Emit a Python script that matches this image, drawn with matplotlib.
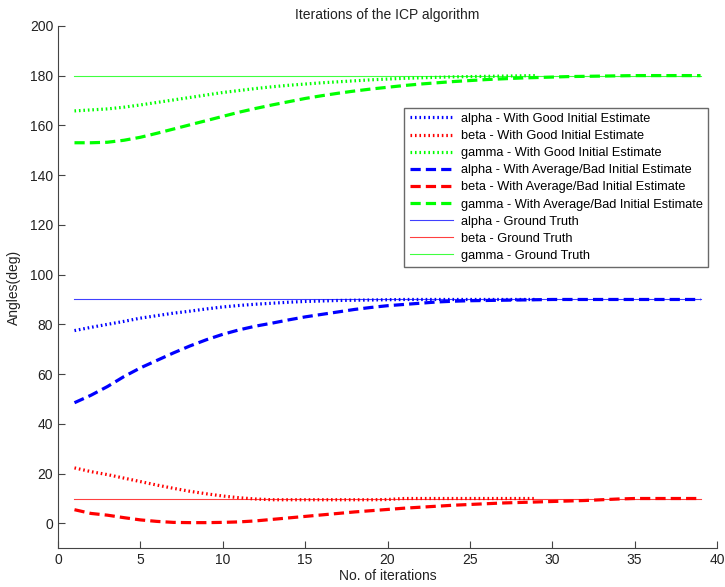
import numpy as np
import matplotlib.pyplot as plt

plt.rcParams['font.family'] = ['Liberation Sans', 'DejaVu Sans']

# iterations for each run
iters_good = np.arange(1, 30)
iters_bad = np.arange(1, 40)
iters_truth = np.arange(1, 40)

alpha_good = [77.5, 78.8, 80.0, 81.2, 82.5, 83.5, 84.5, 85.3, 86.2, 87.0,
              87.6, 88.1, 88.5, 88.9, 89.2, 89.4, 89.6, 89.7, 89.8, 89.9,
              90.0, 90.0, 90.0, 90.0, 90.0, 90.0, 90.0, 90.0, 90.0]
beta_good = [22.3, 20.8, 19.6, 18.2, 16.8, 15.4, 14.1, 12.9, 11.9, 11.0,
             10.3, 9.8, 9.5, 9.5, 9.5, 9.5, 9.5, 9.5, 9.5, 9.6,
             10.0, 10.0, 10.0, 10.0, 10.0, 10.0, 10.0, 10.0, 10.0]
gamma_good = [165.8, 166.2, 166.6, 167.3, 168.2, 169.2, 170.2, 171.2, 172.2, 173.2,
              174.0, 174.8, 175.5, 176.1, 176.6, 177.1, 177.5, 177.9, 178.3, 178.6,
              178.9, 179.1, 179.3, 179.5, 179.6, 179.7, 179.8, 179.9, 180.0]

alpha_bad = [48.5, 51.5, 55.0, 59.0, 62.5, 65.5, 68.5, 71.3, 73.8, 76.0,
             77.8, 79.3, 80.5, 81.8, 83.0, 84.0, 85.0, 86.0, 86.8, 87.5,
             88.0, 88.5, 89.0, 89.3, 89.5, 89.6, 89.7, 89.8, 89.9, 90.0,
             90.0, 90.0, 90.0, 90.0, 90.0, 90.0, 90.0, 90.0, 90.0]
beta_bad = [5.5, 4.0, 3.3, 2.3, 1.4, 0.8, 0.4, 0.3, 0.3, 0.4,
            0.6, 1.0, 1.6, 2.2, 2.8, 3.4, 4.0, 4.6, 5.1, 5.6,
            6.1, 6.5, 6.9, 7.3, 7.6, 7.9, 8.2, 8.4, 8.6, 8.8,
            9.0, 9.2, 9.5, 9.8, 10.0, 10.0, 10.0, 10.0, 10.0]
gamma_bad = [153.0, 153.0, 153.2, 154.0, 155.2, 156.8, 158.5, 160.2, 161.9, 163.6,
             165.3, 166.8, 168.2, 169.5, 170.8, 171.9, 172.9, 173.8, 174.6, 175.3,
             176.0, 176.6, 177.1, 177.6, 178.0, 178.4, 178.7, 179.0, 179.2, 179.4,
             179.6, 179.7, 179.8, 179.9, 180.0, 180.0, 180.0, 180.0, 180.0]

truth = {'alpha': 90, 'beta': 10, 'gamma': 180}
colors = {'alpha': (0, 0, 1), 'beta': (1, 0, 0), 'gamma': (0, 1, 0)}

fig = plt.figure(figsize=(7.25, 5.87), dpi=100)
ax = fig.add_axes([0.080, 0.066, 0.909, 0.890])

lw = 2.3
for name, vals in [('alpha', alpha_good), ('beta', beta_good), ('gamma', gamma_good)]:
    ax.plot(iters_good, vals, linestyle=(0, (0.5, 0.9)), color=colors[name], lw=lw,
            label=name + ' - With Good Initial Estimate')
for name, vals in [('alpha', alpha_bad), ('beta', beta_bad), ('gamma', gamma_bad)]:
    ax.plot(iters_bad, vals, linestyle=(0, (3.2, 1.6)), color=colors[name], lw=lw,
            label=name + ' - With Average/Bad Initial Estimate')
for name in ['alpha', 'beta', 'gamma']:
    ax.plot(iters_truth, np.full(len(iters_truth), truth[name]), '-',
            color=colors[name], lw=0.8, alpha=0.75, label=name + ' - Ground Truth', zorder=3)

ax.set_xlim(0, 40)
ax.set_ylim(-10, 200)
ax.set_xticks(np.arange(0, 41, 5))
ax.set_yticks(np.arange(0, 201, 20))
for s in ['top', 'right']:
    ax.spines[s].set_visible(False)
for s in ['left', 'bottom']:
    ax.spines[s].set_color('#444444')
ax.tick_params(direction='in', length=5, colors='#444444', labelcolor='#222222', labelsize=10)

ax.set_title('Iterations of the ICP algorithm', fontsize=10, color='#222222', pad=5)
ax.set_xlabel('No. of iterations', fontsize=10, color='#222222', labelpad=1)
ax.set_ylabel('Angles(deg)', fontsize=10, color='#222222', labelpad=6)

leg = ax.legend(loc='upper right', bbox_to_anchor=(0.986, 0.843), fontsize=9.2,
                frameon=True, fancybox=False, handlelength=3.4, handletextpad=0.6,
                labelspacing=0.4, borderpad=0.4, borderaxespad=0)
leg.get_frame().set_edgecolor('#444444')
leg.get_frame().set_linewidth(1.0)

fig.savefig('out.png', dpi=100)
